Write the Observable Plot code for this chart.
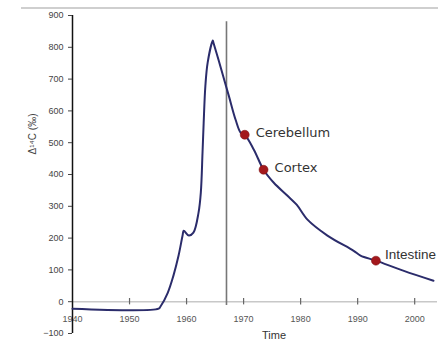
<!DOCTYPE html>
<html>
<head>
<meta charset="utf-8">
<script src="https://cdn.jsdelivr.net/npm/d3@7"></script>
<script src="https://cdn.jsdelivr.net/npm/@observablehq/plot@0.6"></script>
<style>
  body { margin: 0; background: #fff; font-family: "Liberation Sans", Arial, sans-serif; }
  #wrap { position: relative; width: 438px; height: 351px; }
  #topline { position: absolute; top: 7px; left: 21px; width: 417px; height: 2px; background: #cfcfcf; }
</style>
</head>
<body>
<div id="wrap"><div id="topline"></div></div>
<script>
// Bomb-pulse Δ14C curve
const years = [1940, 1955.1, 1955.4, 1956.7, 1957.7, 1958.6, 1959.3, 1959.5, 1960.4, 1961.2, 1962.1, 1962.5, 1962.8, 1963.0, 1963.3, 1963.7, 1964.6, 1964.7, 1965.6, 1966.5, 1967.4, 1968.6, 1969.5, 1970.2, 1971.8, 1973.5, 1975.3, 1977.7, 1979.3, 1981.2, 1984.7, 1989.3, 1990.5, 1993.2, 1998.1, 2003.3];
const d14c  = [-22, -22, -16, 28, 82, 145, 208, 223, 208, 217, 280, 343, 469, 563, 679, 752, 821, 815, 761, 704, 648, 572, 531, 525, 478, 415, 374, 333, 305, 258, 208, 160, 145, 129, 97, 66];

const tissues = ["Cerebellum", "Cortex", "Intestine"];
const tissueYears = [1970.2, 1973.5, 1993.2];
const tissueValues = [525, 415, 129];

const markerYear = 1967;
const xTicks = [1940, 1950, 1960, 1970, 1980, 1990, 2000];
const yTicks = [-100, 0, 100, 200, 300, 400, 500, 600, 700, 800, 900];

const curve = years.map((t, i) => ({year: t, value: d14c[i]}));
const points = tissues.map((n, i) => ({name: n, year: tissueYears[i], value: tissueValues[i]}));

const chart = Plot.plot({
  width: 438,
  height: 351,
  marginLeft: 72,
  marginRight: 1,
  marginTop: 15,
  marginBottom: 18,
  style: {fontFamily: "Liberation Sans, Arial, sans-serif", background: "transparent"},
  x: {domain: [1940, 2004], axis: null},
  y: {domain: [-100, 900], axis: null},
  marks: [
    // x axis along zero
    Plot.ruleY([0], {stroke: "#c8c8c8", strokeWidth: 1.5}),
    Plot.ruleX(xTicks.slice(1), {x: d => d, y1: -10, y2: 10, stroke: "#666", strokeWidth: 1.2}),
    Plot.text(xTicks, {x: d => d, y: 0, dy: 17, text: d => String(d), fontSize: 9, fill: "#555"}),
    Plot.text(["Time"], {frameAnchor: "bottom", dx: 19, dy: 5, fontSize: 11, fill: "#333"}),
    // y axis
    Plot.ruleX([1940], {y1: -100, y2: 900, stroke: "#111", strokeWidth: 1.5}),
    Plot.axisY({ticks: yTicks, tickSize: 4, tickPadding: 5, fontSize: 9, color: "#444", label: null}),
    Plot.text(["Δ¹⁴C (‰)"], {frameAnchor: "left", rotate: -90, dx: -40, dy: -20, fontSize: 10, fill: "#444"}),
    // vertical reference line
    Plot.ruleX([markerYear], {y1: -12, y2: 880, stroke: "#777", strokeWidth: 1.6}),
    // curve
    Plot.line(curve, {x: "year", y: "value", stroke: "#2b2c6b", strokeWidth: 2, curve: "catmull-rom"}),
    Plot.dot(points, {x: "year", y: "value", r: 4.5, fill: "#a3181c", stroke: "#7a1010", strokeWidth: 0.5}),
    Plot.text(points.filter(d => d.name !== "Intestine"), {x: "year", y: "value", text: "name", textAnchor: "start", dx: 11, dy: -2, fontSize: 13, fontFamily: "DejaVu Sans", fill: "#333"}),
    Plot.text(points.filter(d => d.name === "Intestine"), {x: "year", y: "value", text: "name", textAnchor: "start", dx: 9, dy: -6, fontSize: 13.5, fill: "#333"})
  ]
});
document.getElementById("wrap").appendChild(chart);
</script>
</body>
</html>
